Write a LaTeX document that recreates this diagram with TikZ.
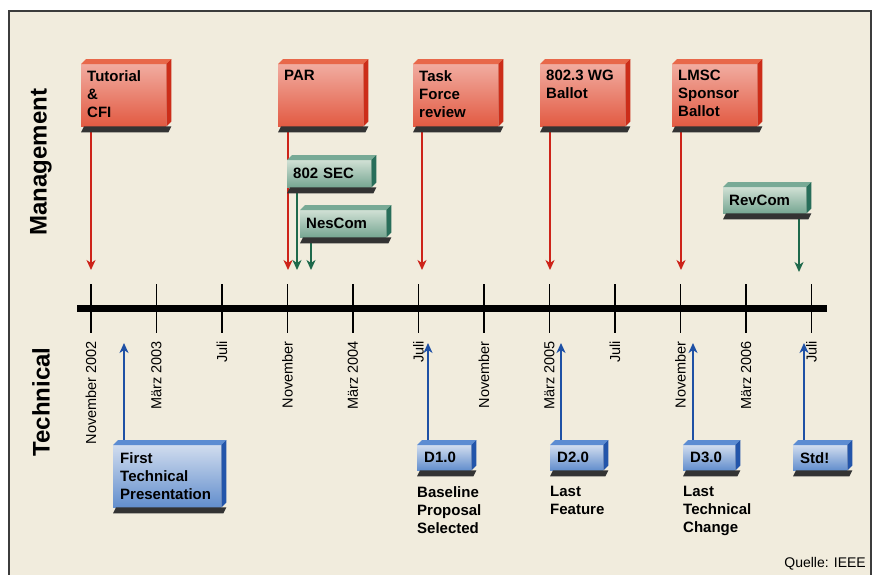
\documentclass[tikz,border=0pt]{standalone}
\usepackage{fontspec}
\setmainfont{Liberation Sans}
\usetikzlibrary{arrows.meta, calc}
\pgfdeclarelayer{paper}
\pgfdeclarelayer{background}
\pgfsetlayers{paper,background,main}

\definecolor{paper}{RGB}{241,236,221}
\definecolor{frame}{RGB}{60,60,60}
\definecolor{redlight}{RGB}{241,172,160}
\definecolor{reddark}{RGB}{226,90,66}
\definecolor{redside}{RGB}{204,45,25}
\definecolor{redtop}{RGB}{232,104,74}
\definecolor{redline}{RGB}{205,35,25}
\definecolor{greenlight}{RGB}{208,224,212}
\definecolor{greendark}{RGB}{118,166,146}
\definecolor{greenside}{RGB}{40,110,90}
\definecolor{greentop}{RGB}{120,170,150}
\definecolor{greenline}{RGB}{30,105,75}
\definecolor{bluelight}{RGB}{208,220,238}
\definecolor{bluedark}{RGB}{98,142,205}
\definecolor{blueside}{RGB}{35,85,170}
\definecolor{bluetop}{RGB}{92,140,210}
\definecolor{blueline}{RGB}{30,80,165}

\tikzset{
  boxfont/.style={font=\bfseries\fontsize{15}{18}\selectfont},
  mgmtbox/.style={rectangle, anchor=north west, inner sep=0pt, minimum width=85pt, minimum height=62pt,
    top color=redlight, bottom color=reddark, boxfont,
    execute at begin node={\begin{minipage}[t][50pt][t]{73pt}},
    execute at end node={\end{minipage}}},
  secbox/.style={rectangle, anchor=north west, inner xsep=6pt, inner ysep=0pt, minimum height=27pt,
    top color=greenlight, bottom color=greendark, align=left, boxfont},
  techbox/.style={rectangle, anchor=north west, inner xsep=7pt, inner ysep=0pt, minimum height=25pt,
    top color=bluelight, bottom color=bluedark, align=left, boxfont},
  note/.style={anchor=north west, inner sep=0pt, align=left, boxfont},
  ticklabel/.style={rotate=90, anchor=east, inner sep=0pt, font=\fontsize{14.5}{16}\selectfont},
  sidelabel/.style={rotate=90, inner sep=0pt, font=\bfseries\fontsize{24}{26}\selectfont},
  redarrow/.style={draw=redline, line width=1.8pt, -{Stealth[length=10pt, width=9pt, inset=3pt]}},
  greenarrow/.style={draw=greenline, line width=1.8pt, -{Stealth[length=10pt, width=9pt, inset=3pt]}},
  bluearrow/.style={draw=blueline, line width=1.8pt, -{Stealth[length=10pt, width=9pt, inset=3pt]}}
}

% top face, side face and floor shadow of a box node
\newcommand{\boxsides}[3]{%
  \fill[#3] (#1.north west) -- ([shift={(5,-5)}]#1.north west) -- ([shift={(5,-5)}]#1.north east) -- (#1.north east) -- cycle;
  \fill[#2] (#1.north east) -- ([shift={(5,-5)}]#1.north east) -- ([shift={(5,-5)}]#1.south east) -- (#1.south east) -- cycle;
  \fill[black!80] ([xshift=3pt]#1.south west) -- ([shift={(5,0)}]#1.south east) -- ([shift={(2,6)}]#1.south east) -- ([shift={(0,6)}]#1.south west) -- cycle;
}

\begin{document}
\begin{tikzpicture}[x=1pt, y=-1pt]
    \useasboundingbox (0,0) rectangle (875,574);
    \clip (0,0) rectangle (875,574);
    \begin{pgfonlayer}{paper}
        \fill[white] (0,0) rectangle (875,574);
        \draw[fill=paper, draw=frame, line width=1.5pt] (9,11) rectangle (871,600);
    \end{pgfonlayer}

    \node[sidelabel] (mgmt) at (41,162) {Management};
    \node[sidelabel] (tech) at (41,402) {Technical};

    % time axis
    \coordinate (axisL) at (77,308);
    \coordinate (axisR) at (827,308);
    \draw[line width=7pt] (axisL) -- (axisR);
    \foreach \lab [count=\i from 0] in {November 2002, März 2003, Juli, November, März 2004, Juli, November, März 2005, Juli, November, März 2006, Juli} {
        \draw[line width=1.8pt] (91+65.5*\i,284) -- (91+65.5*\i,333);
        \node[ticklabel] (tl\i) at (91+65.5*\i,341) {\lab};
    }

    % arrow tips
    \coordinate (rA) at (91,270);
    \coordinate (rB) at (288,270);
    \coordinate (rC) at (422,270);
    \coordinate (rD) at (550,270);
    \coordinate (rE) at (681,270);
    \coordinate (gA) at (297,270);
    \coordinate (gB) at (311,270);
    \coordinate (gC) at (799,272);
    \coordinate (bA) at (124,343);
    \coordinate (bB) at (428,343);
    \coordinate (bC) at (561,343);
    \coordinate (bD) at (693,343);
    \coordinate (bE) at (804,343);

    % management
    \node[mgmtbox] (tut) at (81,64) {Tutorial\\ \&\\ CFI};
    \node[mgmtbox] (par) at (278,64) {PAR};
    \node[mgmtbox] (task) at (413,64) {Task\\ Force\\ review};
    \node[mgmtbox] (wg) at (540,64) {802.3 WG\\ Ballot};
    \node[mgmtbox] (lmsc) at (672,64) {LMSC\\ Sponsor\\ Ballot};
    \foreach \n in {tut, par, task, wg, lmsc} {\boxsides{\n}{redside}{redtop}}

    \node[secbox, text width=72pt] (sec) at (287,160) {802 SEC};
    \node[secbox, text width=74pt] (nes) at (300,210) {NesCom};
    \node[secbox, text width=71pt, minimum height=26pt] (rev) at (723,187) {RevCom};
    \foreach \n in {sec, nes, rev} {\boxsides{\n}{greenside}{greentop}}

    % technical
    \node[techbox, text width=94pt, minimum height=62pt] (ftp) at (113,445) {First\\ Technical\\ Presentation};
    \node[techbox, text width=40pt] (d1) at (417,445) {D1.0};
    \node[techbox, text width=39pt] (d2) at (550,445) {D2.0};
    \node[techbox, text width=38pt] (d3) at (683,445) {D3.0};
    \node[techbox, text width=40pt] (std) at (793,445) {Std!};
    \foreach \n in {ftp, d1, d2, d3, std} {\boxsides{\n}{blueside}{bluetop}}

    \node[note] (d1note) at ([yshift=-16pt]d1.south west) {Baseline\\ Proposal\\ Selected};
    \node[note] (d2note) at ([yshift=-16pt]d2.south west) {Last\\ Feature};
    \node[note] (d3note) at ([yshift=-16pt]d3.south west) {Last\\ Technical\\ Change};

    \begin{pgfonlayer}{background}
        \draw[redarrow] (tut.south west -| rA) -- (rA);
        \draw[redarrow] (par.south west -| rB) -- (rB);
        \draw[redarrow] (task.south west -| rC) -- (rC);
        \draw[redarrow] (wg.south west -| rD) -- (rD);
        \draw[redarrow] (lmsc.south west -| rE) -- (rE);
        \draw[greenarrow] (sec.south west -| gA) -- (gA);
        \draw[greenarrow] (nes.south west -| gB) -- (gB);
        \draw[greenarrow] (rev.south west -| gC) -- (gC);
        \draw[bluearrow] (ftp.north west -| bA) -- (bA);
        \draw[bluearrow] (d1.north west -| bB) -- (bB);
        \draw[bluearrow] (d2.north west -| bC) -- (bC);
        \draw[bluearrow] (d3.north west -| bD) -- (bD);
        \draw[bluearrow] (std.north west -| bE) -- (bE);
    \end{pgfonlayer}

    \node[anchor=south east, inner sep=0pt, font=\fontsize{14}{16}\selectfont] (src) at (866,570) {Quelle: IEEE};
\end{tikzpicture}
\end{document}
